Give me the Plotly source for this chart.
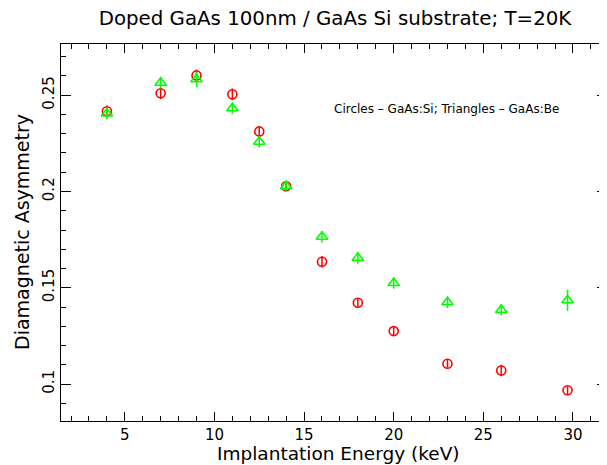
import plotly.graph_objects as go

energy = [4, 7, 9, 11, 12.5, 14, 16, 18, 20, 23, 26, 29.7]
asym_si = [0.2417, 0.251, 0.2603, 0.2505, 0.2312, 0.2027, 0.1635, 0.1422, 0.1275, 0.1105, 0.107, 0.0968]
err_si = [0.003, 0.003, 0.003, 0.003, 0.002, 0.002, 0.003, 0.002, 0.002, 0.002, 0.003, 0.002]
asym_be = [0.2405, 0.2565, 0.2583, 0.2432, 0.2258, 0.2027, 0.1765, 0.1655, 0.1525, 0.1425, 0.1385, 0.1435]
err_be = [0.003, 0.003, 0.004, 0.003, 0.003, 0.003, 0.003, 0.003, 0.003, 0.003, 0.003, 0.0055]

FONT = "DejaVu Sans ExtraLight, DejaVu Sans"
OFF = 8  # page body margin
W, H = 607 - OFF, 465 - OFF
L, T, R, B = 61 - OFF, 44 - OFF, 0, H - (421 - OFF)
PW, PH = W - L - R, H - T - B


def px(xw):
    return (xw - OFF - L) / PW


def py(yw):
    return (H - B - (yw - OFF)) / PH


fig = go.Figure()
fig.add_trace(go.Scatter(
    x=energy, y=asym_si, mode="markers",
    marker=dict(symbol="circle-open", size=9, color="#ff0000", line=dict(width=1.6, color="#ff0000")),
    error_y=dict(type="data", array=err_si, visible=True, color="#ff0000", thickness=1.5, width=0),
    showlegend=False))
fig.add_trace(go.Scatter(
    x=energy, y=asym_be, mode="markers",
    marker=dict(symbol="triangle-up-open", size=10, color="#00ff00", line=dict(width=1.6, color="#00ff00")),
    error_y=dict(type="data", array=err_be, visible=True, color="#00ff00", thickness=1.5, width=0),
    showlegend=False))

fig.add_annotation(x=px(446), y=py(109), xref="paper", yref="paper", showarrow=False,
                   text="Circles \u2013 GaAs:Si; Triangles \u2013 GaAs:Be",
                   xanchor="center", yanchor="middle",
                   font=dict(family=FONT, size=12, color="black"))

fig.add_annotation(x=px(338), y=py(453), xref="paper", yref="paper",
                   showarrow=False, text="Implantation Energy (keV)",
                   xanchor="center", yanchor="middle",
                   font=dict(family=FONT, size=18.5, color="black"))
fig.add_annotation(x=px(22), y=py(232), xref="paper", yref="paper",
                   showarrow=False, text="Diamagnetic Asymmetry", textangle=-90,
                   xanchor="center", yanchor="middle",
                   font=dict(family=FONT, size=19, color="black"))

fig.update_layout(
    width=W, height=H,
    margin=dict(l=L, r=R, t=T, b=B, autoexpand=False),
    paper_bgcolor="white", plot_bgcolor="white",
    title=dict(text="Doped GaAs 100nm / GaAs Si substrate; T=20K", x=(335 - OFF) / W, xanchor="center",
               y=1 - (18 - OFF) / H, yanchor="middle", font=dict(family=FONT, size=19.8, color="black")),
    font=dict(family=FONT, color="black"),
)
fig.update_xaxes(
    range=[1.44, 31.9], showgrid=False, zeroline=False, automargin=False,
    showline=True, linecolor="black", linewidth=1, mirror="ticks",
    ticks="inside", ticklen=9, tickwidth=1, tickcolor="black", dtick=5, tick0=0,
    minor=dict(ticks="inside", ticklen=5, dtick=1, tickcolor="black"),
    tickfont=dict(family=FONT, size=15),
)
fig.update_yaxes(
    range=[0.0808, 0.2766], showgrid=False, zeroline=False, automargin=False,
    showline=True, linecolor="black", linewidth=1, mirror="ticks",
    ticks="inside", ticklen=10, tickwidth=1, tickcolor="black", dtick=0.05, tick0=0,
    minor=dict(ticks="inside", ticklen=5, dtick=0.01, tickcolor="black"),
    tickangle=-90, tickfont=dict(family=FONT, size=15),
)

fig.write_html("out.html")
